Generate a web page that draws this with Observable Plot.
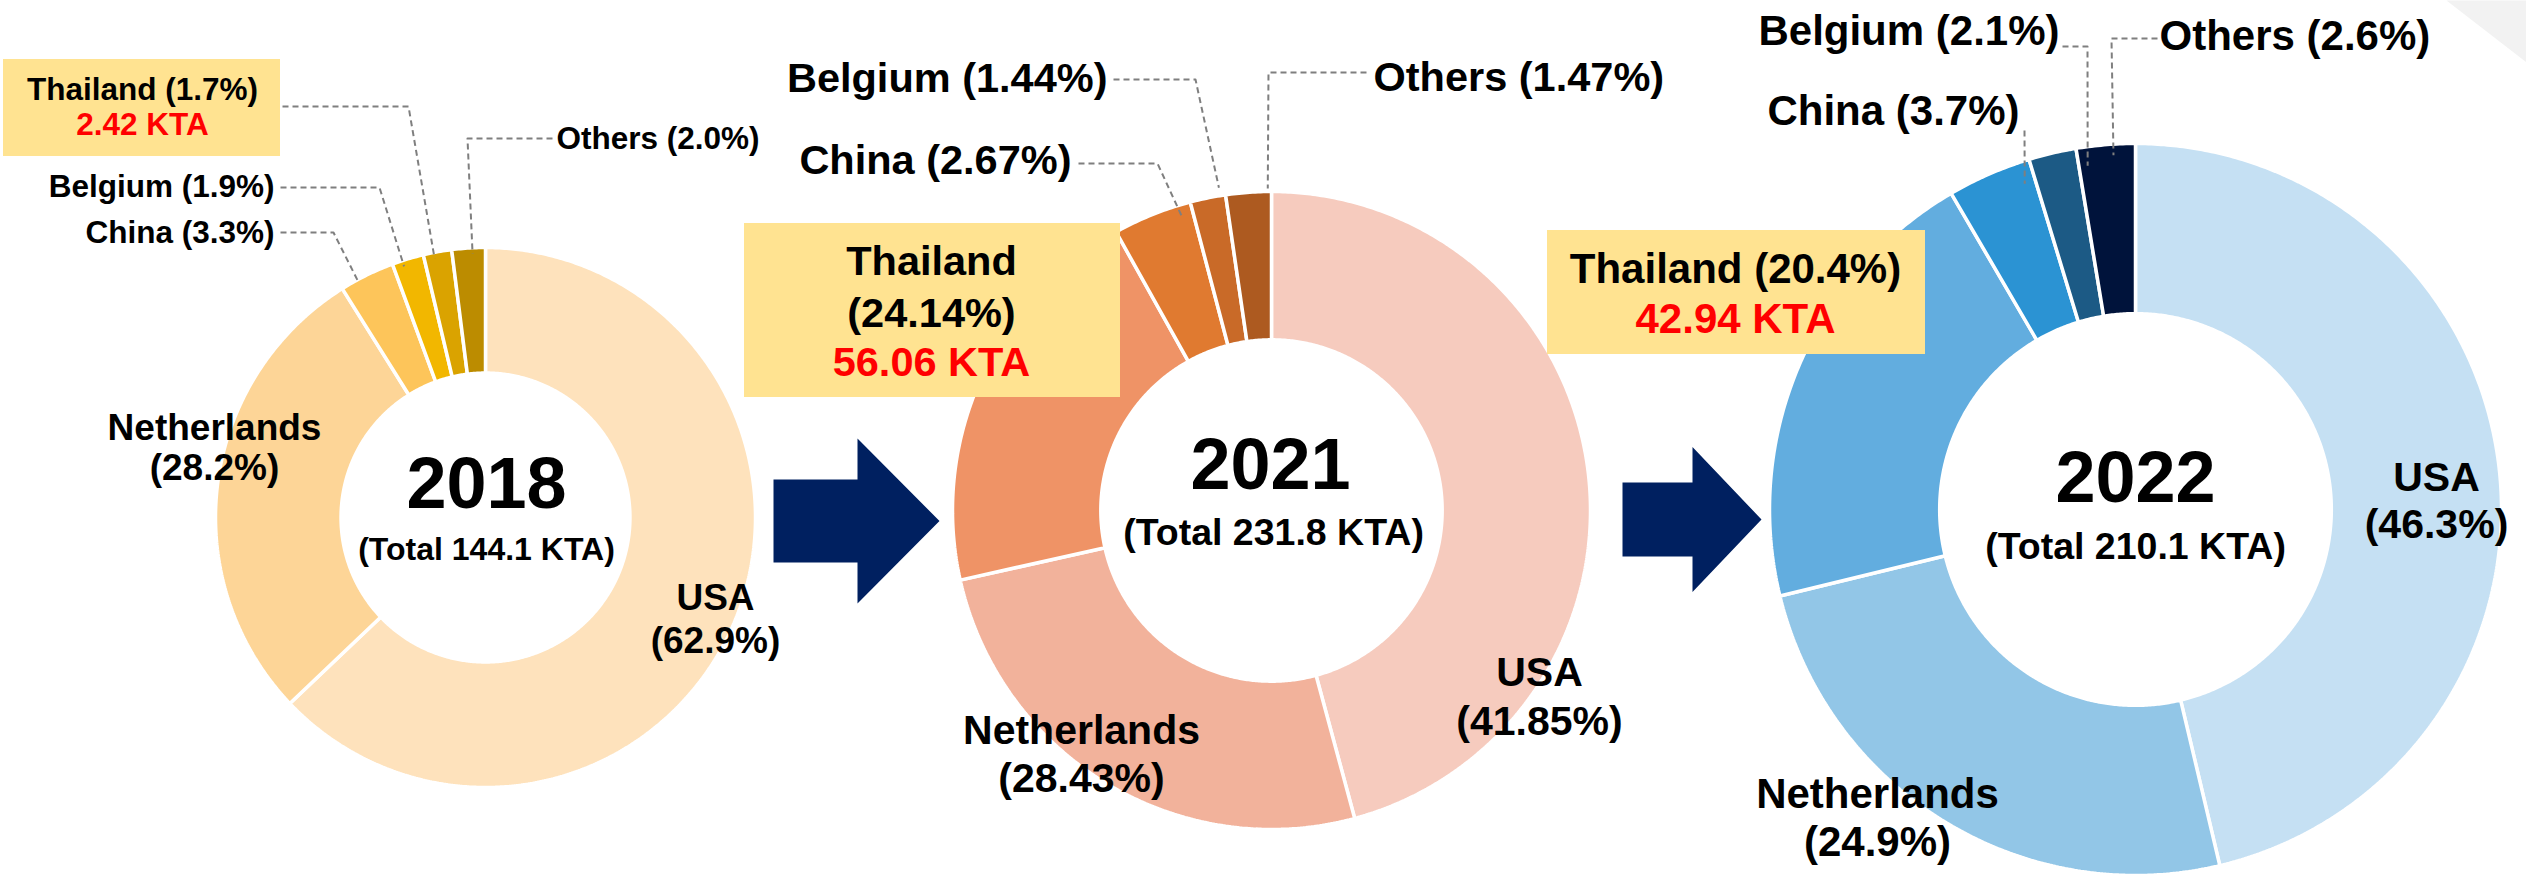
<!DOCTYPE html>
<html><head><meta charset="utf-8">
<script src="https://cdn.jsdelivr.net/npm/d3@7"></script>
<script src="https://cdn.jsdelivr.net/npm/@observablehq/plot@0.6"></script>
<style>
html,body{margin:0;padding:0;background:#fff;overflow:hidden}
#chart svg{display:block}
</style></head><body><div id="chart"></div>
<script>
// ---------------- data ----------------
const years = ["2018", "2021", "2022"];
const totalsKTA = [144.1, 231.8, 210.1];
const thailandKTA = [2.42, 56.06, 42.94];
const decimals = [1, 2, 1];

const countries2018 = ["USA", "Netherlands", "China", "Belgium", "Thailand", "Others"];
const shares2018 = [62.9, 28.2, 3.3, 1.9, 1.7, 2.0];
const countries2021 = ["USA", "Netherlands", "Thailand", "China", "Belgium", "Others"];
const shares2021 = [41.85, 28.43, 24.14, 2.67, 1.44, 1.47];
// slice sizes of the 2021 ring as actually drawn in the reference picture
// (the printed labels above differ from the drawn ring)
const drawnShares2021 = [45.8, 25.7, 20.4, 4.0, 1.8, 2.3];
const countries2022 = ["USA", "Netherlands", "Thailand", "China", "Belgium", "Others"];
const shares2022 = [46.3, 24.9, 20.4, 3.7, 2.1, 2.6];

const palette2018 = ["#FEE2BC", "#FDD597", "#FDC55A", "#F2B700", "#DAA300", "#BC8C00"];
const palette2021 = ["#F6CBBE", "#F2B29B", "#EF9366", "#E07A30", "#C96A28", "#AD5A20"];
const palette2022 = ["#C5E0F3", "#92C6E7", "#62ADDF", "#2B93D3", "#1C5A85", "#00133B"];

// ---------------- layout (positions & styles) ----------------
const W = 2526, H = 874;
const FONT = "'Liberation Sans', Arial, sans-serif";
const holeRatio = 0.535;
const donuts = [
  {cx: 485, cy: 517, R: 270},
  {cx: 1271, cy: 510, R: 319},
  {cx: 2135, cy: 509, R: 366}
];
const yearLabelPos = [
  {year: [486, 484], total: [486, 549], yearSize: 72, totalSize: 32},
  {year: [1270, 465], total: [1273, 532], yearSize: 72, totalSize: 37.5},
  {year: [2135, 478], total: [2135, 546], yearSize: 72, totalSize: 37.5}
];
const labelPos = [
  { // 2018
    USA: {x: 715, y: [598, 641], anchor: "middle", size: 37, split: true},
    Netherlands: {x: 214, y: [428, 468], anchor: "middle", size: 37, split: true},
    China: {x: 274, y: [232], anchor: "end", size: 31.5},
    Belgium: {x: 274, y: [186], anchor: "end", size: 31.5},
    Others: {x: 556, y: [138], anchor: "start", size: 31.5},
    Thailand: {box: [3, 59, 280, 156], x: 142, y: [89], kta: 124, size: 31.5}
  },
  { // 2021
    USA: {x: 1539, y: [672, 721], anchor: "middle", size: 41, split: true},
    Netherlands: {x: 1081, y: [730, 778], anchor: "middle", size: 41, split: true},
    China: {x: 1071, y: [160], anchor: "end", size: 41.5},
    Belgium: {x: 1107, y: [78], anchor: "end", size: 41.5},
    Others: {x: 1373, y: [77], anchor: "start", size: 41.5},
    Thailand: {box: [744, 223, 1120, 397], x: 931, y: [261, 313], kta: 362, size: 41.5, split: true}
  },
  { // 2022
    USA: {x: 2436, y: [477, 524], anchor: "middle", size: 41, split: true},
    Netherlands: {x: 1877, y: [794, 842], anchor: "middle", size: 42, split: true},
    China: {x: 2019, y: [111], anchor: "end", size: 42},
    Belgium: {x: 2059, y: [31], anchor: "end", size: 42},
    Others: {x: 2159, y: [36], anchor: "start", size: 42},
    Thailand: {box: [1547, 230, 1925, 354], x: 1735, y: [269], kta: 319, size: 42}
  }
];
const leaderPos = [
  {
    Thailand: {start: [282, 106], elbow: [408, 106], t: 0.36, inset: 6},
    Belgium: {start: [280, 187], elbow: [379, 187], t: 0.32, inset: 6},
    China: {start: [280, 232], elbow: [333, 232], t: 0.31, inset: 4},
    Others: {start: [552, 138], elbow: [467, 138], t: 0.61, inset: 6}
  },
  {
    China: {start: [1078, 163], elbow: [1157, 163], t: 0.85, inset: 13},
    Belgium: {start: [1113, 79], elbow: [1195, 79], t: 0.85, inset: -8},
    Others: {start: [1366, 72], elbow: [1268, 72], t: 0.92, inset: -3}
  },
  {
    China: {start: [2024, 130], elbow: [2024, 130], t: 0.86, inset: 22},
    Belgium: {start: [2062, 46], elbow: [2087, 46], t: 1.19, inset: 19},
    Others: {start: [2157, 38], elbow: [2111, 38], t: 0.62, inset: 11}
  }
];
const arrows = [
  {x0: 773, xh: 857, xt: 939, yc: 520.5, bh: 41.5, hh: 82.5},
  {x0: 1622, xh: 1692, xt: 1761, yc: 519, bh: 37, hh: 72.5}
];
const cornerTriangle = [[2446, 0], [2526, 0], [2526, 62]];
const BOX_FILL = "#FFE391";
const ARROW_FILL = "#002060";
const RED = "#FF0000";

// ---------------- build tables ----------------
const countriesByYear = [countries2018, countries2021, countries2022];
const labelSharesByYear = [shares2018, shares2021, shares2022];
const arcSharesByYear = [shares2018, drawnShares2021, shares2022];
const palettes = [palette2018, palette2021, palette2022];

const slicePts = [];
const leaderPts = [];
const textRows = [];
const boxRows = [];
const polyPts = [];

function pt(d, ang, r) {
  return [d.cx + r * Math.sin(ang), d.cy - r * Math.cos(ang)];
}

years.forEach((yr, yi) => {
  const d = donuts[yi];
  const names = countriesByYear[yi];
  const vals = arcSharesByYear[yi];
  const labelVals = labelSharesByYear[yi];
  const sum = d3.sum(vals);
  const r0 = d.R * holeRatio;
  let acc = 0;
  const angles = {};
  names.forEach((name, i) => {
    const a0 = acc / sum * 2 * Math.PI;
    acc += vals[i];
    const a1 = acc / sum * 2 * Math.PI;
    angles[name] = [a0, a1];
    const n = Math.max(2, Math.ceil((a1 - a0) / (Math.PI / 360)));
    const id = yr + "-" + name;
    const color = palettes[yi][i];
    for (let k = 0; k <= n; k++) {
      const a = a0 + (a1 - a0) * k / n;
      const [x, y] = pt(d, a, d.R);
      slicePts.push({id, x, y, color});
    }
    for (let k = n; k >= 0; k--) {
      const a = a0 + (a1 - a0) * k / n;
      const [x, y] = pt(d, a, r0);
      slicePts.push({id, x, y, color});
    }
  });

  names.forEach((name, i) => {
    const L = labelPos[yi][name];
    const pctText = "(" + labelVals[i].toFixed(decimals[yi]) + "%)";
    if (name === "Thailand") {
      const [bx1, by1, bx2, by2] = L.box;
      boxRows.push({x1: bx1, y1: by1, x2: bx2, y2: by2});
      if (L.split) {
        textRows.push({text: name, x: L.x, y: L.y[0], size: L.size, anchor: "middle", color: "black"});
        textRows.push({text: pctText, x: L.x, y: L.y[1], size: L.size, anchor: "middle", color: "black"});
      } else {
        textRows.push({text: name + " " + pctText, x: L.x, y: L.y[0], size: L.size, anchor: "middle", color: "black"});
      }
      textRows.push({text: thailandKTA[yi].toFixed(2) + " KTA", x: L.x, y: L.kta, size: L.size, anchor: "middle", color: RED});
    } else if (L.split) {
      textRows.push({text: name, x: L.x, y: L.y[0], size: L.size, anchor: L.anchor, color: "black"});
      textRows.push({text: pctText, x: L.x, y: L.y[1], size: L.size, anchor: L.anchor, color: "black"});
    } else {
      textRows.push({text: name + " " + pctText, x: L.x, y: L.y[0], size: L.size, anchor: L.anchor, color: "black"});
    }
    const ld = leaderPos[yi][name];
    if (ld) {
      const [a0, a1] = angles[name];
      const a = a0 + (a1 - a0) * ld.t;
      const [ex, ey] = pt(d, a, d.R - ld.inset);
      const id = "lead-" + yr + "-" + name;
      leaderPts.push({id, x: ld.start[0], y: ld.start[1]});
      leaderPts.push({id, x: ld.elbow[0], y: ld.elbow[1]});
      leaderPts.push({id, x: ex, y: ey});
    }
  });

  const YP = yearLabelPos[yi];
  textRows.push({text: yr, x: YP.year[0], y: YP.year[1], size: YP.yearSize, anchor: "middle", color: "black"});
  textRows.push({text: "(Total " + totalsKTA[yi].toFixed(1) + " KTA)", x: YP.total[0], y: YP.total[1], size: YP.totalSize, anchor: "middle", color: "black"});
});

arrows.forEach((a, i) => {
  const id = "arrow" + i;
  [[a.x0, a.yc - a.bh], [a.xh, a.yc - a.bh], [a.xh, a.yc - a.hh], [a.xt, a.yc],
   [a.xh, a.yc + a.hh], [a.xh, a.yc + a.bh], [a.x0, a.yc + a.bh]]
    .forEach(([x, y]) => polyPts.push({id, x, y, color: ARROW_FILL}));
});
cornerTriangle.forEach(([x, y]) => polyPts.push({id: "corner", x, y, color: "#F2F2F2"}));

const textMark = (anchor) => Plot.text(textRows.filter(d => d.anchor === anchor), {
  x: "x", y: "y", text: "text", fontSize: "size", fill: "color",
  textAnchor: anchor, lineAnchor: "middle", fontWeight: "bold", fontFamily: FONT
});

const chart = Plot.plot({
  width: W, height: H,
  margin: 0,
  x: {type: "linear", domain: [0, W], range: [0, W], axis: null},
  y: {type: "linear", domain: [0, H], range: [0, H], axis: null},
  color: {type: "identity"},
  style: {background: "white", fontFamily: FONT},
  marks: [
    Plot.line(polyPts, {x: "x", y: "y", z: "id", fill: "color", stroke: "none", curve: "linear-closed"}),
    Plot.line(slicePts, {x: "x", y: "y", z: "id", fill: "color", stroke: "white", strokeWidth: 3.5, strokeLinejoin: "miter", curve: "linear-closed"}),
    Plot.line(leaderPts, {x: "x", y: "y", z: "id", stroke: "#7F7F7F", strokeWidth: 2, strokeDasharray: "6,4", strokeLinecap: "butt"}),
    Plot.rect(boxRows, {x1: "x1", x2: "x2", y1: "y1", y2: "y2", fill: BOX_FILL}),
    textMark("middle"),
    textMark("start"),
    textMark("end")
  ]
});
document.getElementById("chart").appendChild(chart);
</script>
</body></html>
